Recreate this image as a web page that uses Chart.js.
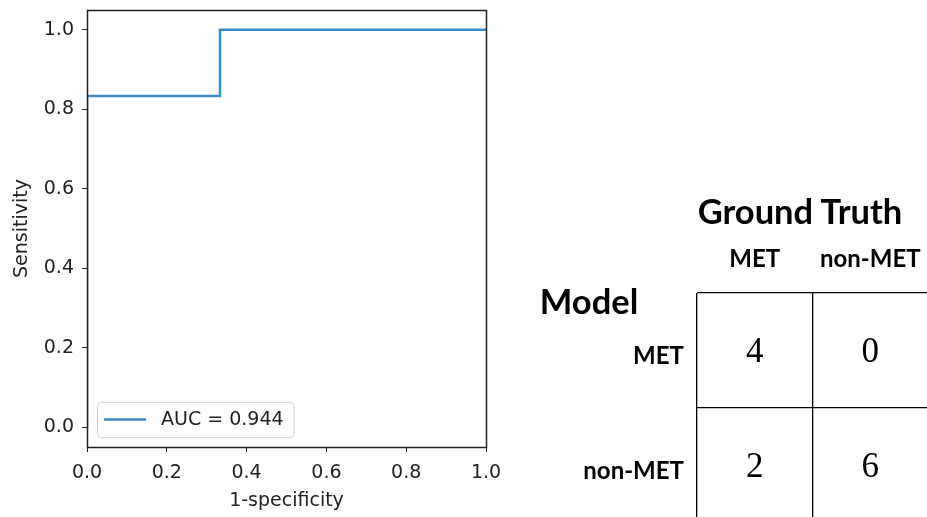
<!DOCTYPE html>
<html><head><meta charset="utf-8">
<script src="https://cdn.jsdelivr.net/npm/chart.js@4.4.1/dist/chart.umd.min.js"></script>
<style>
html,body{margin:0;padding:0;background:#fff;overflow:hidden;width:927px;height:517px;position:relative;}
#roc{position:absolute;left:0;top:0;}
#cm{position:absolute;left:520px;top:180px;}
.hdr{position:absolute;font-family:Lato,'Open Sans',sans-serif;font-weight:bold;color:#000;white-space:nowrap;line-height:1;transform:translate(-50%,-50%);}
</style></head><body>
<canvas id="roc" width="515" height="517"></canvas>
<canvas id="cm" width="420" height="350"></canvas>
<div class="hdr" style="left:800px;top:211px;font-size:34.5px;">Ground Truth</div>
<div class="hdr" style="left:589px;top:301px;font-size:34.5px;">Model</div>
<script>
// ROC curve data
const fpr = [0, 0, 0.3333, 0.3333, 1];
const tpr = [0, 0.8333, 0.8333, 1, 1];
const aucLabel = 'AUC = 0.944';
const rocTicks = [0, 0.2, 0.4, 0.6, 0.8, 1.0];
// Confusion matrix data
const truthLabels = ['MET', 'non-MET'];
const modelLabels = ['MET', 'non-MET'];
const countsMET = [4, 0];     // model MET row
const countsNonMET = [2, 6];  // model non-MET row

const dv = {family: "'DejaVu Sans', sans-serif", size: 19};
const txt = '#222';

function zeroPad(s) { s.paddingTop = 0; s.paddingBottom = 0; s.paddingLeft = 0; s.paddingRight = 0; }

const rocFrame = {
  id: 'rocFrame',
  afterDatasetsDraw(chart) {
    const {ctx, chartArea: a} = chart;
    ctx.save();
    ctx.strokeStyle = txt; ctx.lineWidth = 1.5;
    ctx.strokeRect(Math.round(a.left) + 0.5, Math.round(a.top) + 0.5, Math.round(a.right - a.left), Math.round(a.bottom - a.top));
    // legend
    const ds = chart.data.datasets[0];
    ctx.font = `${dv.size}px ${dv.family}`;
    const tw = ctx.measureText(ds.label).width;
    const bx = a.left + 10, by = a.bottom - 45, bh = 35;
    const bw = 64 + tw + 10;
    ctx.fillStyle = 'rgba(255,255,255,0.8)';
    ctx.strokeStyle = '#d0d0d0'; ctx.lineWidth = 1;
    ctx.beginPath();
    ctx.roundRect(bx + 0.5, by + 0.5, bw, bh, 4);
    ctx.fill(); ctx.stroke();
    ctx.strokeStyle = ds.borderColor; ctx.lineWidth = ds.borderWidth;
    ctx.beginPath(); ctx.moveTo(bx + 7, by + bh / 2); ctx.lineTo(bx + 49, by + bh / 2); ctx.stroke();
    ctx.fillStyle = txt; ctx.textBaseline = 'middle'; ctx.textAlign = 'left';
    ctx.fillText(ds.label, bx + 64, by + bh / 2 + 1);
    ctx.restore();
  }
};

new Chart(document.getElementById('roc'), {
  type: 'scatter',
  data: {datasets: [{
    label: aucLabel,
    data: fpr.map((x, i) => ({x: x, y: tpr[i]})),
    showLine: true, borderColor: '#3d8ac4', borderWidth: 2.5, clip: 0,
    pointRadius: 0, pointHoverRadius: 0, fill: false, tension: 0
  }]},
  options: {
    responsive: false, animation: false, events: [],
    layout: {padding: {left: 0, top: 10, right: 29, bottom: 0}},
    plugins: {legend: {display: false}, tooltip: {enabled: false}},
    scales: {
      x: {
        type: 'linear', min: 0, max: 1,
        afterBuildTicks(s) { s.ticks = rocTicks.map(v => ({value: v})); },
        grid: {drawOnChartArea: false, drawTicks: true, tickLength: 5, color: txt, lineWidth: 1},
        border: {display: false},
        ticks: {padding: 10, color: txt, font: dv, maxRotation: 0, autoSkip: false, callback: v => Number(v).toFixed(1)},
        title: {display: true, text: '1-specificity', color: txt, font: dv, padding: {top: 0, bottom: 5}},
        afterFit(s) { s.height = 70; zeroPad(s); }
      },
      y: {
        type: 'linear', min: -0.05, max: 1.05,
        afterBuildTicks(s) { s.ticks = rocTicks.map(v => ({value: v})); },
        grid: {drawOnChartArea: false, drawTicks: true, tickLength: 5, color: txt, lineWidth: 1},
        border: {display: false},
        ticks: {padding: 8, color: txt, font: dv, autoSkip: false, callback: v => Number(v).toFixed(1)},
        title: {display: true, text: 'Sensitivity', color: txt, font: dv, padding: {top: 11, bottom: 0}},
        afterFit(s) { s.width = 87; zeroPad(s); }
      }
    }
  },
  plugins: [rocFrame]
});

// Confusion matrix
const rows = [countsMET, countsNonMET];
const cells = [];
modelLabels.forEach((r, i) => truthLabels.forEach((c, j) => cells.push({x: c, y: r, v: rows[i][j]})));

const cellText = {
  id: 'cellText',
  afterDatasetsDraw(chart) {
    const {ctx} = chart;
    const meta = chart.getDatasetMeta(0);
    ctx.save();
    ctx.font = "35px 'Liberation Serif', serif";
    ctx.fillStyle = '#000'; ctx.textAlign = 'center'; ctx.textBaseline = 'middle';
    meta.data.forEach((pt, i) => ctx.fillText(String(cells[i].v), pt.x, pt.y + 2));
    ctx.restore();
  }
};

const lbl = {family: "Lato, 'Open Sans', sans-serif", size: 24, weight: 'bold'};
new Chart(document.getElementById('cm'), {
  type: 'scatter',
  data: {datasets: [{data: cells, pointRadius: 0, pointHoverRadius: 0}]},
  options: {
    responsive: false, animation: false, events: [],
    layout: {padding: {left: 0, top: 0, right: 12, bottom: 7}},
    plugins: {legend: {display: false}, tooltip: {enabled: false}},
    scales: {
      x: {
        type: 'category', labels: truthLabels, position: 'top', offset: true,
        grid: {offset: true, color: '#000', lineWidth: 1.3, drawTicks: false},
        border: {display: false},
        ticks: {padding: 19, color: '#000', font: lbl, maxRotation: 0, autoSkip: false},
        afterFit(s) { s.height = 113; zeroPad(s); }
      },
      y: {
        type: 'category', labels: modelLabels, offset: true,
        grid: {offset: true, color: '#000', lineWidth: 1.3, drawTicks: false},
        border: {display: false},
        ticks: {padding: 13, color: '#000', font: lbl, autoSkip: false, labelOffset: 6},
        afterFit(s) { s.width = 177; zeroPad(s); }
      }
    }
  },
  plugins: [cellText]
});
</script>
</body></html>
